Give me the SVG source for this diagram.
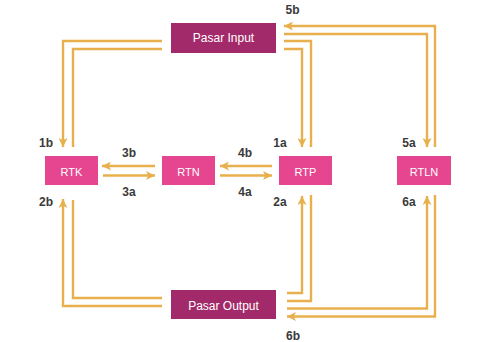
<svg xmlns="http://www.w3.org/2000/svg" width="478" height="342" viewBox="0 0 478 342">
<defs>
<style>
.bg{fill:#ffffff}
.dark{fill:#a32a6a}
.pink{fill:#e6468f}
.nt{font-family:"Liberation Sans",Arial,sans-serif;fill:#ffffff;text-anchor:middle}
.lbl{font-family:"Liberation Sans",Arial,sans-serif;font-weight:bold;font-size:12px;fill:#3a3a3a;text-anchor:middle}
.ln{fill:none;stroke:#e8b04c;stroke-width:2.4}
.arr{marker-end:url(#ah)}
</style>
<marker id="ah" viewBox="0 0 10 10" refX="10" refY="5" markerWidth="9" markerHeight="9" markerUnits="userSpaceOnUse" orient="auto">
<path d="M0,0 L10,5 L0,10 L2.5,5 z" fill="#e8b04c"/>
</marker>
</defs>
<rect class="bg" x="0" y="0" width="478" height="342"/>
<g id="connectors">
<path class="ln arr" d="M162,41 H63 V147"/>
<path class="ln" d="M162,49 H73 V147"/>
<path class="ln" d="M284,41 H311 V147"/>
<path class="ln arr" d="M284,49 H302 V147"/>
<path class="ln arr" d="M284,34 H427 V147"/>
<path class="ln arr" d="M435,147 V26 H284"/>
<path class="ln arr" d="M155,166 H102"/>
<path class="ln arr" d="M103,175.5 H155"/>
<path class="ln arr" d="M272,166 H220"/>
<path class="ln arr" d="M220,175.5 H272"/>
<path class="ln arr" d="M162,306 H63 V199"/>
<path class="ln" d="M162,298 H73 V200"/>
<path class="ln arr" d="M287,293 H302 V196"/>
<path class="ln" d="M287,301 H311 V195"/>
<path class="ln arr" d="M287,308.5 H427 V196"/>
<path class="ln arr" d="M435,195 V316.5 H287"/>
</g>
<g id="pasar-input">
<rect class="dark" x="171" y="23" width="105" height="30"/>
<text class="nt" x="223.5" y="42" font-size="12">Pasar Input</text>
</g>
<g id="pasar-output">
<rect class="dark" x="171" y="290" width="105" height="29"/>
<text class="nt" x="223.5" y="309.5" font-size="12">Pasar Output</text>
</g>
<g id="rtk">
<rect class="pink" x="45" y="156" width="53" height="29"/>
<text class="nt" x="71.5" y="175.5" font-size="11">RTK</text>
</g>
<g id="rtn">
<rect class="pink" x="162" y="156" width="53" height="29"/>
<text class="nt" x="188.5" y="175.5" font-size="11">RTN</text>
</g>
<g id="rtp">
<rect class="pink" x="279" y="156" width="53" height="29"/>
<text class="nt" x="305.5" y="175.5" font-size="11">RTP</text>
</g>
<g id="rtln">
<rect class="pink" x="397" y="156" width="54" height="29"/>
<text class="nt" x="424" y="175.5" font-size="11">RTLN</text>
</g>
<g id="labels">
<text class="lbl" x="292.5" y="14">5b</text>
<text class="lbl" x="46" y="147">1b</text>
<text class="lbl" x="280" y="147">1a</text>
<text class="lbl" x="409" y="147">5a</text>
<text class="lbl" x="129" y="156.5">3b</text>
<text class="lbl" x="245" y="156.5">4b</text>
<text class="lbl" x="129" y="195.5">3a</text>
<text class="lbl" x="245" y="195.5">4a</text>
<text class="lbl" x="46" y="206">2b</text>
<text class="lbl" x="280" y="206">2a</text>
<text class="lbl" x="409" y="206">6a</text>
<text class="lbl" x="293" y="340">6b</text>
</g>
</svg>
